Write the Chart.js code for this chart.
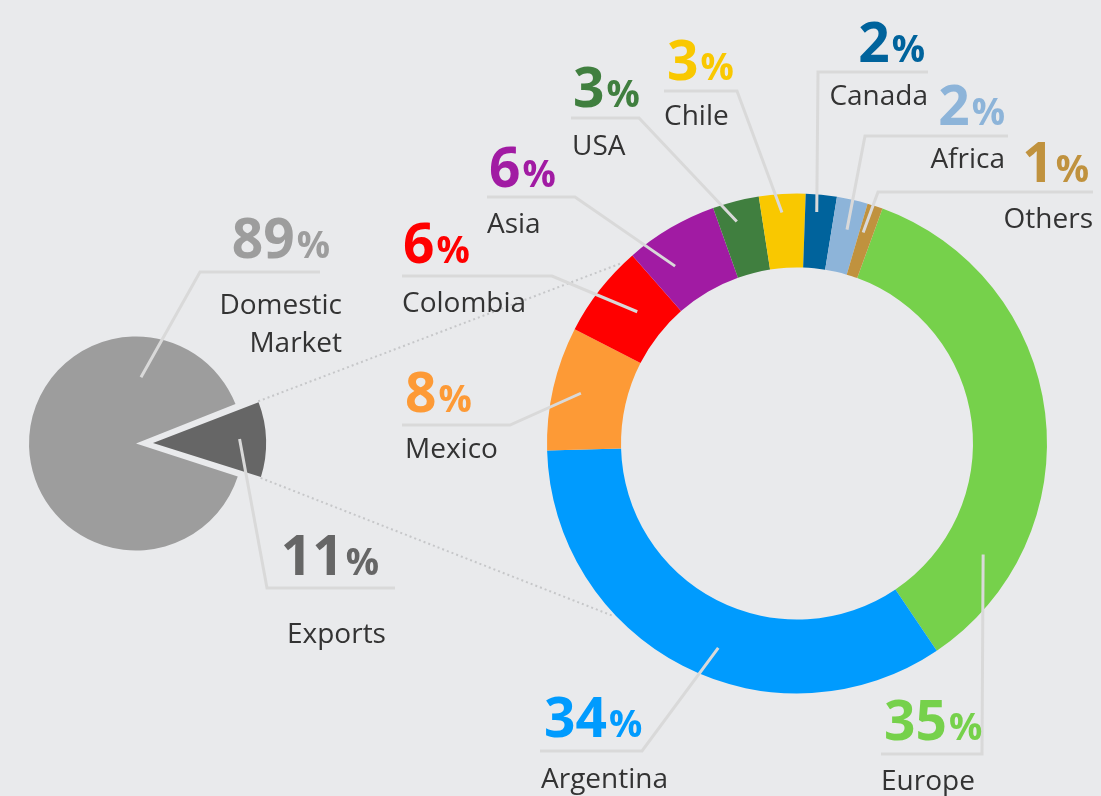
<!DOCTYPE html>
<html>
<head>
<meta charset="utf-8">
<script src="https://cdn.jsdelivr.net/npm/chart.js@4.4.1/dist/chart.umd.min.js"></script>
<style>
  html, body { margin: 0; padding: 0; background: #e9eaec; }
  #wrap { position: relative; width: 1101px; height: 796px; overflow: hidden; }
  canvas { position: absolute; left: 0; top: 0; }
</style>
</head>
<body>
<div id="wrap">
  <canvas id="marketPie" width="1101" height="796"></canvas>
  <canvas id="exportsRing" width="1101" height="796"></canvas>
</div>
<script>
// sales split, % of volume
const marketLabels = [['Domestic', 'Market'], 'Exports']
const marketValues = [89, 11]
const marketColors = ['#9d9d9d', '#666666']

// exports by destination, % of exports
const exportLabels = ['Europe', 'Argentina', 'Mexico', 'Colombia', 'Asia', 'USA', 'Chile', 'Canada', 'Africa', 'Others']
const exportValues = [35, 34, 8, 6, 6, 3, 3, 2, 2, 1]
const exportColors = ['#76d14b', '#009bfe', '#fd9a36', '#ff0000', '#a11ba3', '#407f3f', '#f9c800', '#00639c', '#8db4d9', '#c0923e']

const BIG_FONT = '700 55px "Open Sans", "Noto Sans", sans-serif'
const PCT_FONT = '700 37px "Open Sans", "Noto Sans", sans-serif'
const TEXT_FONT = '400 28px "Open Sans", "Noto Sans", sans-serif'
const TEXT_COLOR = '#333333'
const LEADER_COLOR = '#d9d9d9'

// where each callout sits: t = position along the slice, f = depth into it
const pieCallouts = [
  {t: 0.80, f: 0.62, elbow: [200, 272], end: [320, 272], numAlign: 'right', numX: 330, numY: 258, textAlign: 'right', textX: 342, textY: 314},
  {t: 0.48, f: 0.81, elbow: [267, 588], end: [395, 588], numAlign: 'right', numX: 379, numY: 575, textAlign: 'left', textX: 287, textY: 643}
]

const ringCallouts = [
  {t: 0.80, f: 0.55, elbow: [982, 754], end: [881, 754], numAlign: 'left', numX: 884, numY: 740, textAlign: 'left', textX: 881, textY: 790},
  {t: 0.45, f: 0.58, elbow: [642, 751], end: [540, 751], numAlign: 'left', numX: 544, numY: 737, textAlign: 'left', textX: 541, textY: 788},
  {t: 0.51, f: 0.62, elbow: [510, 425], end: [402, 425], numAlign: 'left', numX: 405, numY: 412, textAlign: 'left', textX: 405, textY: 458},
  {t: 0.57, f: 0.42, elbow: [552, 276], end: [402, 276], numAlign: 'left', numX: 403, numY: 263, textAlign: 'left', textX: 402, textY: 312},
  {t: 0.31, f: 0.53, elbow: [575, 197], end: [487, 197], numAlign: 'left', numX: 489, numY: 187, textAlign: 'left', textX: 487, textY: 233},
  {t: 0.41, f: 0.73, elbow: [639, 118], end: [571, 118], numAlign: 'left', numX: 573, numY: 107, textAlign: 'left', textX: 572, textY: 155},
  {t: 0.47, f: 0.75, elbow: [737, 91], end: [664, 91], numAlign: 'left', numX: 667, numY: 80, textAlign: 'left', textX: 664, textY: 125},
  {t: 0.40, f: 0.76, elbow: [818, 72], end: [928, 72], numAlign: 'right', numX: 925, numY: 62, textAlign: 'right', textX: 928, textY: 105},
  {t: 0.55, f: 0.59, elbow: [865, 136], end: [1008, 136], numAlign: 'right', numX: 1005, numY: 125, textAlign: 'right', textX: 1005, textY: 168},
  {t: 0.28, f: 0.61, elbow: [878, 192], end: [1093, 192], numAlign: 'right', numX: 1089, numY: 182, textAlign: 'right', textX: 1093, textY: 228}
]

// dotted "zoom" lines from the exports slice to the ring (degrees, clockwise from top)
const zoomLineAngles = [315.6, 226.8]

// chart.js v4 moves an arc by offset / 4 along its mid angle
function arcShift(arc) {
  const off = (arc.options.offset || 0) / 4
  const mid = (arc.startAngle + arc.endAngle) / 2
  const grow = off * (1 - Math.sin(Math.min(Math.PI, arc.endAngle - arc.startAngle)))
  return {dx: Math.cos(mid) * off, dy: Math.sin(mid) * off, grow: grow}
}

function arcPoint(arc, t, f) {
  const s = arcShift(arc)
  const a = arc.startAngle + t * (arc.endAngle - arc.startAngle)
  const r = arc.innerRadius + f * (arc.outerRadius - arc.innerRadius)
  return [arc.x + s.dx + Math.cos(a) * r, arc.y + s.dy + Math.sin(a) * r]
}

function drawPercent(ctx, value, x, y, align, color) {
  const digits = String(value)
  ctx.font = BIG_FONT
  const w1 = ctx.measureText(digits).width
  ctx.font = PCT_FONT
  const w2 = ctx.measureText('%').width
  const gap = 2
  const left = align === 'right' ? x - (w1 + gap + w2) : x
  ctx.fillStyle = color
  ctx.textAlign = 'left'
  ctx.textBaseline = 'alphabetic'
  ctx.font = BIG_FONT
  ctx.fillText(digits, left, y)
  ctx.font = PCT_FONT
  ctx.fillText('%', left + w1 + gap, y)
}

function drawLabel(ctx, label, x, y, align) {
  const lines = Array.isArray(label) ? label : [label]
  ctx.font = TEXT_FONT
  ctx.fillStyle = TEXT_COLOR
  ctx.textAlign = align
  ctx.textBaseline = 'alphabetic'
  lines.forEach((line, i) => ctx.fillText(line, x, y + i * 38))
}

function calloutPlugin(layout) {
  return {
    id: 'callouts',
    afterDatasetsDraw(chart) {
      const ctx = chart.ctx
      const ds = chart.data.datasets[0]
      const arcs = chart.getDatasetMeta(0).data
      ctx.save()
      layout.forEach((c, i) => {
        const p = arcPoint(arcs[i], c.t, c.f)
        ctx.strokeStyle = LEADER_COLOR
        ctx.lineWidth = 3
        ctx.lineJoin = 'miter'
        ctx.beginPath()
        ctx.moveTo(p[0], p[1])
        ctx.lineTo(c.elbow[0], c.elbow[1])
        ctx.lineTo(c.end[0], c.end[1])
        ctx.stroke()
        drawPercent(ctx, ds.data[i], c.numX, c.numY, c.numAlign, ds.backgroundColor[i])
        drawLabel(ctx, chart.data.labels[i], c.textX, c.textY, c.textAlign)
      })
      ctx.restore()
    }
  }
}

const zoomLines = {
  id: 'zoomLines',
  beforeDatasetsDraw(chart) {
    const exportsArc = pieChart.getDatasetMeta(0).data[1]
    const s = arcShift(exportsArc)
    const r0 = exportsArc.outerRadius + s.grow
    const starts = [exportsArc.startAngle, exportsArc.endAngle].map(a => [
      exportsArc.x + s.dx + Math.cos(a) * r0,
      exportsArc.y + s.dy + Math.sin(a) * r0
    ])
    const ring = chart.getDatasetMeta(0).data[0]
    const ctx = chart.ctx
    ctx.save()
    ctx.strokeStyle = '#c6c7c9'
    ctx.lineWidth = 2
    ctx.setLineDash([2, 3])
    zoomLineAngles.forEach((deg, i) => {
      const a = (deg - 90) * Math.PI / 180
      ctx.beginPath()
      ctx.moveTo(starts[i][0], starts[i][1])
      ctx.lineTo(ring.x + Math.cos(a) * (ring.outerRadius + 2), ring.y + Math.sin(a) * (ring.outerRadius + 2))
      ctx.stroke()
    })
    ctx.restore()
  }
}

const pieChart = new Chart(document.getElementById('marketPie'), {
  type: 'pie',
  data: {
    labels: marketLabels,
    datasets: [{
      data: marketValues,
      backgroundColor: marketColors,
      borderWidth: 0,
      offset: [0, 68]
    }]
  },
  options: {
    responsive: false,
    animation: false,
    events: [],
    rotation: 108,
    radius: 107,
    layout: { padding: { left: 0, right: 829, top: 91, bottom: 0 } },
    plugins: { legend: { display: false }, tooltip: { enabled: false } }
  },
  plugins: [calloutPlugin(pieCallouts)]
})

const ringChart = new Chart(document.getElementById('exportsRing'), {
  type: 'doughnut',
  data: {
    labels: exportLabels,
    datasets: [{
      data: exportValues,
      backgroundColor: exportColors,
      borderWidth: 0
    }]
  },
  options: {
    responsive: false,
    animation: false,
    events: [],
    rotation: 20,
    radius: 250,
    cutout: '70.4%',
    layout: { padding: { left: 493, right: 0, top: 91, bottom: 0 } },
    plugins: { legend: { display: false }, tooltip: { enabled: false } }
  },
  plugins: [zoomLines, calloutPlugin(ringCallouts)]
})
</script>
</body>
</html>
